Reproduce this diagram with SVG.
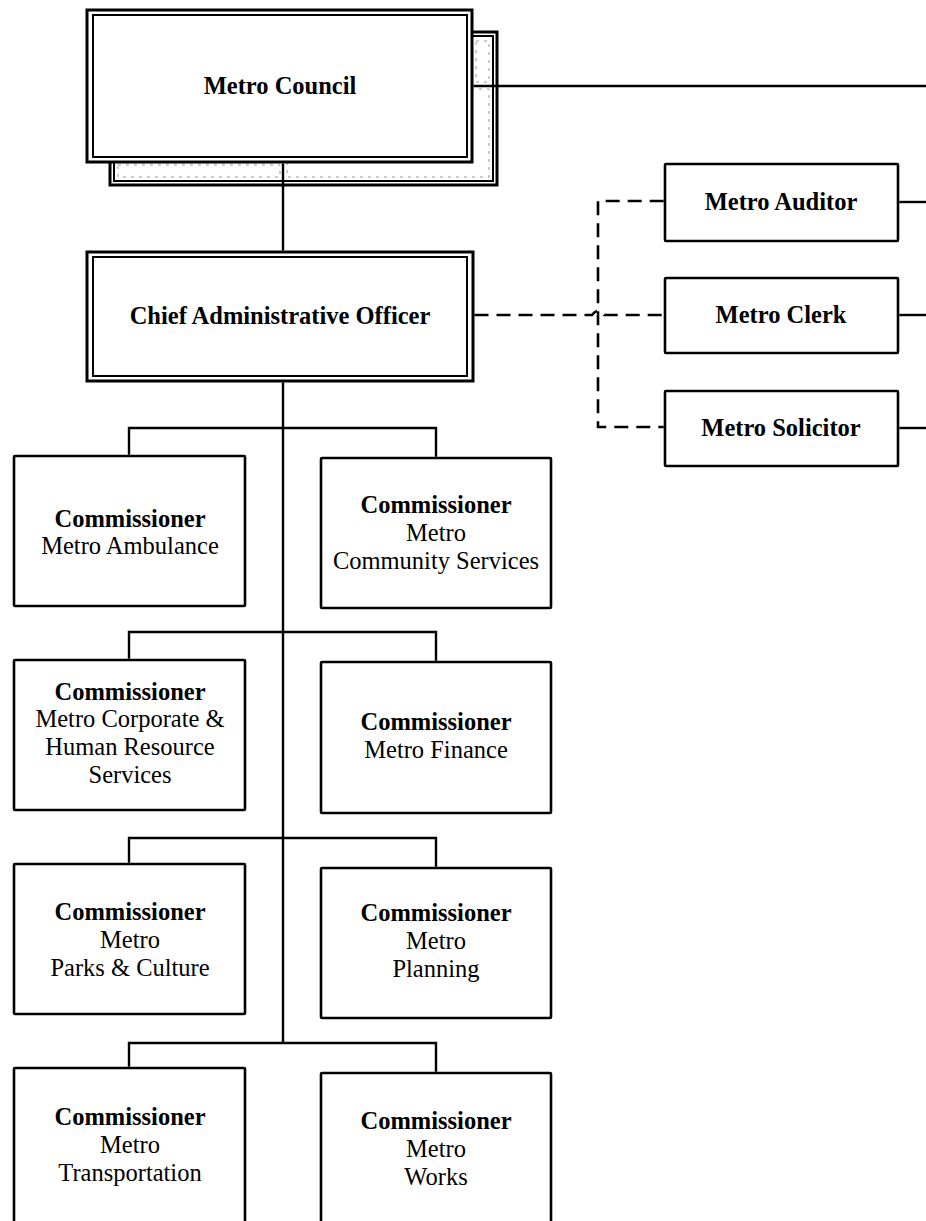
<svg xmlns="http://www.w3.org/2000/svg" width="926" height="1221" viewBox="0 0 926 1221">
<style>
  .bg { fill: #ffffff; }
  .box { fill: #ffffff; stroke: #000; stroke-width: 2.6; }
  .outer { fill: #ffffff; stroke: #000; stroke-width: 3; }
  .inner { fill: none; stroke: #000; stroke-width: 2; }
  .panel { fill: none; stroke: #999; stroke-width: 1; stroke-dasharray: 3 5; }
  .line { fill: none; stroke: #000; stroke-width: 2.4; }
  .dash { fill: none; stroke: #000; stroke-width: 2.6; stroke-dasharray: 14 8; }
  text { font-family: "Liberation Serif", "Times New Roman", serif; font-size: 24.5px; text-anchor: middle; fill: #000; }
  .b { font-weight: bold; }
</style>
<rect class="bg" x="0" y="0" width="926" height="1221"/>

<g id="metro-council">
  <rect class="outer" x="110" y="32" width="387" height="153"/>
  <rect class="inner" x="114" y="36" width="379" height="145" stroke-width="1.5"/>
  <rect class="panel" x="118" y="165" width="162" height="12"/>
  <rect class="panel" x="287" y="89" width="202" height="88"/>
  <rect class="panel" x="476" y="41" width="13" height="41"/>
  <rect class="outer" x="87" y="10" width="385" height="152"/>
  <rect class="inner" x="93" y="15" width="374" height="142"/>
  <text class="b" x="280" y="94">Metro Council</text>
</g>

<g id="cao">
  <rect class="outer" x="87" y="252" width="386" height="129"/>
  <rect class="inner" x="93" y="257" width="374" height="119"/>
  <text class="b" x="280" y="324">Chief Administrative Officer</text>
</g>

<g id="metro-auditor">
  <rect class="box" x="665" y="164" width="233" height="77" rx="1"/>
  <text class="b" x="781" y="210">Metro Auditor</text>
</g>
<g id="metro-clerk">
  <rect class="box" x="665" y="278" width="233" height="75" rx="1"/>
  <text class="b" x="781" y="323">Metro Clerk</text>
</g>
<g id="metro-solicitor">
  <rect class="box" x="665" y="391" width="233" height="75" rx="1"/>
  <text class="b" x="781" y="436">Metro Solicitor</text>
</g>

<g id="comm-ambulance">
  <rect class="box" x="14" y="456" width="231" height="150" rx="1"/>
  <text class="b" x="130" y="527">Commissioner</text>
  <text x="130" y="554">Metro Ambulance</text>
</g>
<g id="comm-community">
  <rect class="box" x="321" y="458" width="230" height="150" rx="1"/>
  <text class="b" x="436" y="513">Commissioner</text>
  <text x="436" y="541">Metro</text>
  <text x="436" y="569">Community Services</text>
</g>
<g id="comm-corporate">
  <rect class="box" x="14" y="660" width="231" height="150" rx="1"/>
  <text class="b" x="130" y="700">Commissioner</text>
  <text x="130" y="727">Metro Corporate &amp;</text>
  <text x="130" y="755">Human Resource</text>
  <text x="130" y="783">Services</text>
</g>
<g id="comm-finance">
  <rect class="box" x="321" y="662" width="230" height="151" rx="1"/>
  <text class="b" x="436" y="730">Commissioner</text>
  <text x="436" y="758">Metro Finance</text>
</g>
<g id="comm-parks">
  <rect class="box" x="14" y="864" width="231" height="150" rx="1"/>
  <text class="b" x="130" y="920">Commissioner</text>
  <text x="130" y="948">Metro</text>
  <text x="130" y="976">Parks &amp; Culture</text>
</g>
<g id="comm-planning">
  <rect class="box" x="321" y="868" width="230" height="150" rx="1"/>
  <text class="b" x="436" y="921">Commissioner</text>
  <text x="436" y="949">Metro</text>
  <text x="436" y="977">Planning</text>
</g>
<g id="comm-transportation">
  <rect class="box" x="14" y="1068" width="231" height="170" rx="1"/>
  <text class="b" x="130" y="1125">Commissioner</text>
  <text x="130" y="1153">Metro</text>
  <text x="130" y="1181">Transportation</text>
</g>
<g id="comm-works">
  <rect class="box" x="321" y="1073" width="230" height="170" rx="1"/>
  <text class="b" x="436" y="1129">Commissioner</text>
  <text x="436" y="1157">Metro</text>
  <text x="436" y="1185">Works</text>
</g>

<g id="connectors">
  <line class="line" x1="283" y1="163.5" x2="283" y2="250.5"/>
  <line class="line" x1="473.5" y1="86" x2="926" y2="86"/>
  <line class="line" x1="283" y1="382.5" x2="283" y2="1043"/>
  <path class="line" d="M129 454.7 V428 H436 V456.7"/>
  <path class="line" d="M129 658.7 V632 H436 V660.7"/>
  <path class="line" d="M129 862.7 V838 H436 V866.7"/>
  <path class="line" d="M129 1066.7 V1043 H436 V1071.7"/>
  <line class="line" x1="899.3" y1="202" x2="926" y2="202"/>
  <line class="line" x1="899.3" y1="315" x2="926" y2="315"/>
  <line class="line" x1="899.3" y1="428" x2="926" y2="428"/>
  <path class="dash" d="M474.5 315 H592 Q598 307 604 315 H663.7"/>
  <path class="dash" d="M663.7 201 H598 V427 H663.7"/>
</g>
</svg>
